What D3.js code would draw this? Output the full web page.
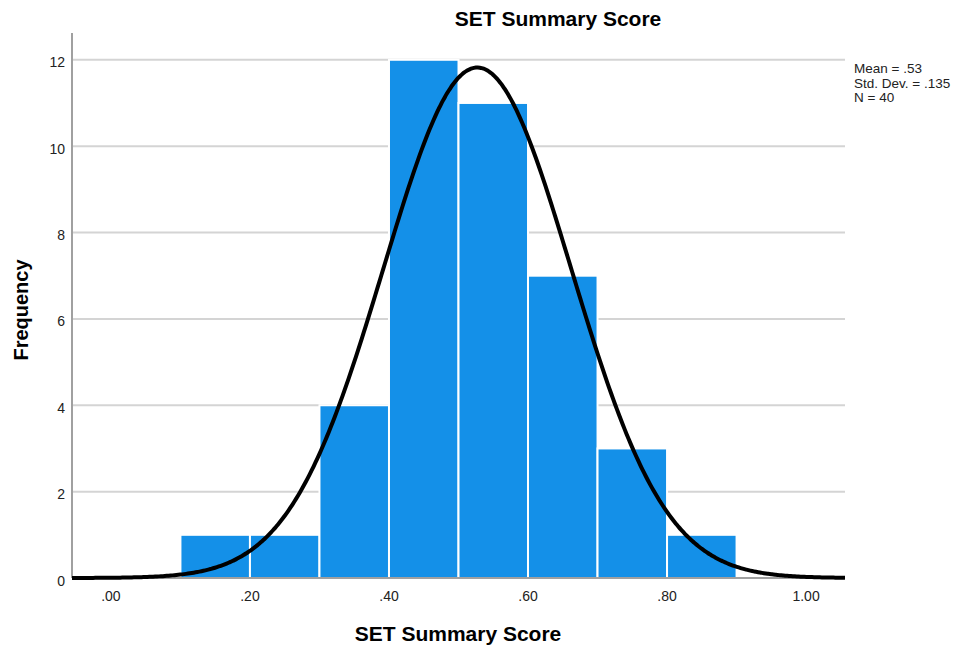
<!DOCTYPE html>
<html>
<head>
<meta charset="utf-8">
<script src="https://cdn.jsdelivr.net/npm/d3@7"></script>
<style>
  body { margin: 0; background: #fff; }
  text { font-family: "Liberation Sans", Arial, sans-serif; }
</style>
</head>
<body>
<div id="chart"></div>
<script>
// histogram bins (lower edge) and counts
const binStarts = [0.1, 0.2, 0.3, 0.4, 0.5, 0.6, 0.7, 0.8];
const counts = [1, 1, 4, 12, 11, 7, 3, 1];
const binWidth = 0.1;
const xTicks = [0, 0.2, 0.4, 0.6, 0.8, 1.0];
const yTicks = [0, 2, 4, 6, 8, 10, 12];
const stats = { mean: 0.527, sd: 0.135, n: 40 };
const statLines = ["Mean = .53", "Std. Dev. = .135", "N = 40"];

const W = 964, H = 652;
const margin = { top: 33, right: 119, bottom: 74, left: 72 };

const svg = d3.select("#chart").append("svg")
    .attr("width", W)
    .attr("height", H);

const x = d3.scaleLinear()
    .domain([-0.056, 1.056])
    .range([margin.left, W - margin.right]);

const y = d3.scaleLinear()
    .domain([0, 12.62])
    .range([H - margin.bottom, margin.top]);

// gridlines
svg.append("g").selectAll("line")
    .data(yTicks.filter(d => d > 0))
    .enter().append("line")
    .attr("x1", margin.left)
    .attr("x2", W - margin.right)
    .attr("y1", d => y(d))
    .attr("y2", d => y(d))
    .attr("stroke", "#d4d4d4")
    .attr("stroke-width", 2);

// bars
svg.append("g").selectAll("rect")
    .data(binStarts)
    .enter().append("rect")
    .attr("x", d => x(d))
    .attr("y", (d, i) => y(counts[i]))
    .attr("width", x(binWidth) - x(0))
    .attr("height", (d, i) => y(0) - y(counts[i]))
    .attr("fill", "#1490e8")
    .attr("stroke", "#fff")
    .attr("stroke-width", 2);

// axes lines
svg.append("line")
    .attr("x1", margin.left).attr("x2", margin.left)
    .attr("y1", margin.top).attr("y2", y(0))
    .attr("stroke", "#a0a0a0").attr("stroke-width", 2);
svg.append("line")
    .attr("x1", margin.left).attr("x2", W - margin.right)
    .attr("y1", y(0)).attr("y2", y(0))
    .attr("stroke", "#a0a0a0").attr("stroke-width", 2);

// normal curve
const pts = d3.range(0, 401).map(i => {
    const v = x.domain()[0] + (x.domain()[1] - x.domain()[0]) * i / 400;
    const z = (v - stats.mean) / stats.sd;
    const f = stats.n * binWidth / (stats.sd * Math.sqrt(2 * Math.PI)) * Math.exp(-0.5 * z * z);
    return [v, f];
});
svg.append("path")
    .datum(pts)
    .attr("fill", "none")
    .attr("stroke", "#000")
    .attr("stroke-width", 4)
    .attr("d", d3.line().x(d => x(d[0])).y(d => y(d[1])).curve(d3.curveBasis));

// tick labels
const fmtX = d => d === 1 ? "1.00" : d3.format(".2f")(d).replace(/^0/, "");
svg.append("g").selectAll("text")
    .data(xTicks)
    .enter().append("text")
    .attr("x", d => x(d))
    .attr("y", 601)
    .attr("text-anchor", "middle")
    .attr("font-size", 14)
    .attr("fill", "#222")
    .text(fmtX);

svg.append("g").selectAll("text")
    .data(yTicks)
    .enter().append("text")
    .attr("x", 65)
    .attr("y", d => y(d) + 7.5)
    .attr("text-anchor", "end")
    .attr("font-size", 14)
    .attr("fill", "#222")
    .text(d => d);

// titles
svg.append("text")
    .attr("x", 558).attr("y", 26)
    .attr("text-anchor", "middle")
    .attr("font-size", 21).attr("font-weight", "bold")
    .text("SET Summary Score");

svg.append("text")
    .attr("x", 458).attr("y", 641)
    .attr("text-anchor", "middle")
    .attr("font-size", 21).attr("font-weight", "bold")
    .text("SET Summary Score");

svg.append("text")
    .attr("transform", "translate(28,310) rotate(-90)")
    .attr("text-anchor", "middle")
    .attr("font-size", 20).attr("font-weight", "bold")
    .text("Frequency");

// stats box
svg.append("g").selectAll("text")
    .data(statLines)
    .enter().append("text")
    .attr("x", 854)
    .attr("y", (d, i) => 73 + i * 14.5)
    .attr("font-size", 13.5)
    .attr("fill", "#222")
    .text(d => d);
</script>
</body>
</html>
